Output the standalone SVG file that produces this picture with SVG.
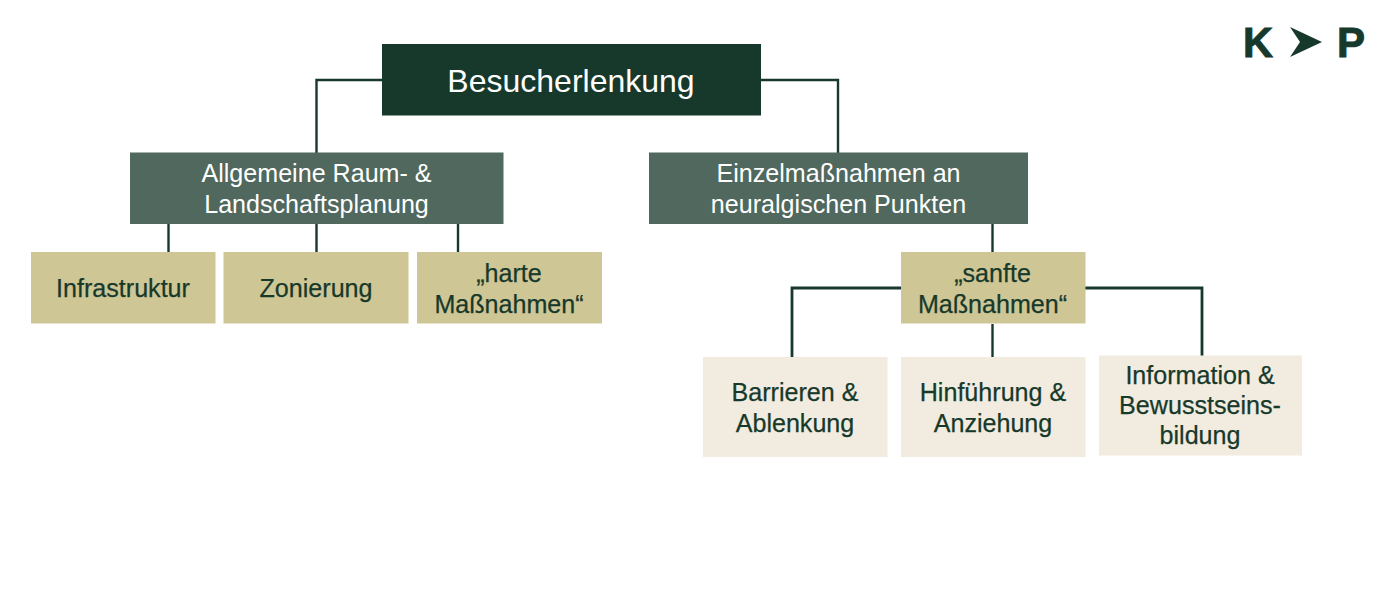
<svg xmlns="http://www.w3.org/2000/svg" width="1386" height="593" viewBox="0 0 1386 593">
<style>
text{font-family:"Liberation Sans",Arial,sans-serif;text-anchor:middle}
.d{font-size:25.100px;fill:#17392b;stroke:#17392b;stroke-width:.25}
.w{font-size:25.100px;fill:#fff}
.m{fill:#50685d}.g{fill:#cfc695}.c{fill:#f1ecdf}
.l{fill:none;stroke:#17392b;stroke-width:2.400}
.h{stroke-width:2.800}
.k{font-size:42px;font-weight:700;fill:#17392b;stroke:#17392b;stroke-width:1}
</style>
<rect width="1386" height="593" fill="#fff"/>
<g id="connectors">
<path class="l" d="M382 80H316.500V153"/>
<path class="l" d="M761 80H838V153"/>
<path class="l" d="M168.500 224V252"/>
<path class="l" d="M316.500 224V252"/>
<path class="l" d="M458 224V252"/>
<path class="l" d="M992.500 224V252"/>
<path class="l h" d="M901 288H792V357"/>
<path class="l" d="M992.500 324V357"/>
<path class="l h" d="M1085 288H1202V356"/>
</g>
<g id="root"><rect x="382" y="44" width="379" height="71.500" fill="#17392b"/><text x="571" y="92" style="font-size:32px" fill="#fff">Besucherlenkung</text></g>
<g id="n-raum"><rect class="m" x="130" y="152.500" width="373.500" height="71.500"/><text class="w" x="316.500" y="182">Allgemeine Raum- &amp;</text><text class="w" x="316.500" y="213">Landschaftsplanung</text></g>
<g id="n-einzel"><rect class="m" x="649" y="152.500" width="379" height="71.500"/><text class="w" x="838.500" y="182">Einzelmaßnahmen an</text><text class="w" x="838.500" y="213">neuralgischen Punkten</text></g>
<g id="n-infra"><rect class="g" x="31" y="252" width="184.500" height="71.500"/><text class="d" x="123" y="297">Infrastruktur</text></g>
<g id="n-zon"><rect class="g" x="223.500" y="252" width="185" height="71.500"/><text class="d" x="316" y="297">Zonierung</text></g>
<g id="n-harte"><rect class="g" x="417" y="252" width="185" height="71.500"/><text class="d" x="509" y="282">„harte</text><text class="d" x="509" y="313">Maßnahmen“</text></g>
<g id="n-sanfte"><rect class="g" x="901" y="252" width="184.500" height="71.500"/><text class="d" x="992.500" y="282">„sanfte</text><text class="d" x="992.500" y="313">Maßnahmen“</text></g>
<g id="n-barr"><rect class="c" x="703" y="357" width="184.500" height="100"/><text class="d" x="795" y="401">Barrieren &amp;</text><text class="d" x="795" y="432">Ablenkung</text></g>
<g id="n-hin"><rect class="c" x="901" y="357" width="184.500" height="100"/><text class="d" x="993" y="401">Hinführung &amp;</text><text class="d" x="993" y="432">Anziehung</text></g>
<g id="n-info"><rect class="c" x="1099" y="355.500" width="203" height="100"/><text class="d" x="1200" y="384">Information &amp;</text><text class="d" x="1200" y="414">Bewusstseins-</text><text class="d" x="1200" y="444">bildung</text></g>
<g id="logo"><text class="k" x="1258" y="57" textLength="30" lengthAdjust="spacingAndGlyphs">K</text><polygon points="1290,27 1322,42 1290,57 1300,42" fill="#17392b"/><text class="k" x="1351" y="57" textLength="28" lengthAdjust="spacingAndGlyphs">P</text></g>
</svg>
